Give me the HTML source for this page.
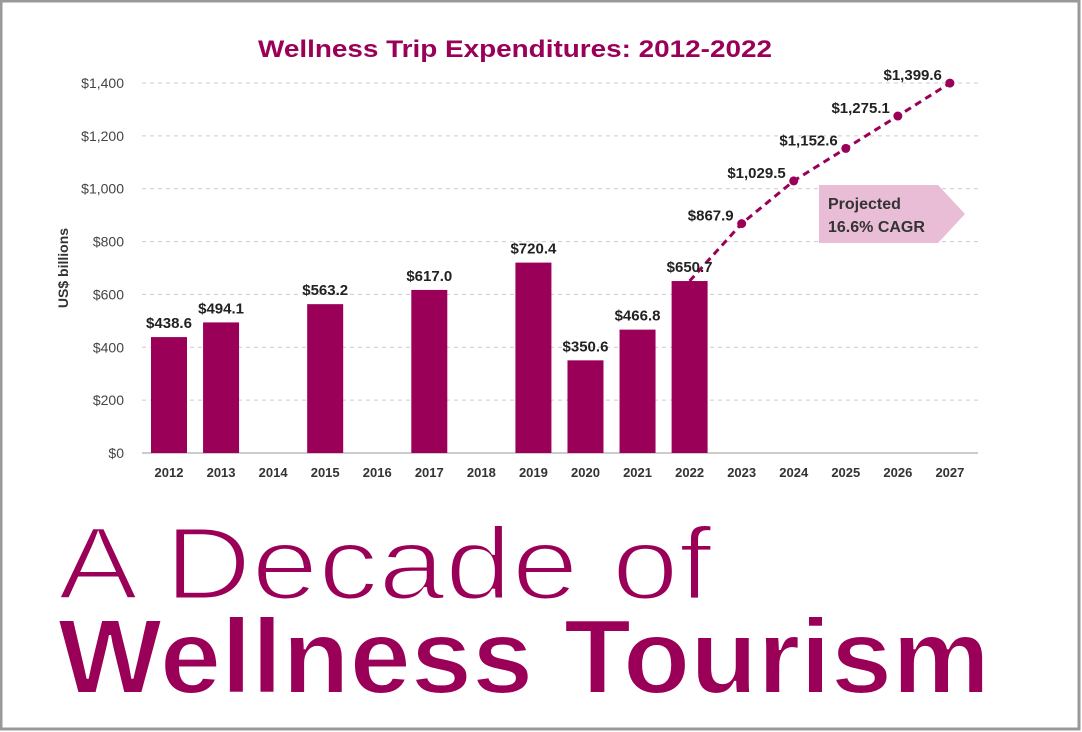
<!DOCTYPE html>
<html><head><meta charset="utf-8"><style>
html,body{margin:0;padding:0;background:#fff;}
svg{display:block;font-family:"Liberation Sans",sans-serif;}
</style></head><body>
<svg id="chart" width="1082" height="732" viewBox="0 0 1082 732">
<rect x="1" y="1" width="1078" height="728" fill="#fff" stroke="#999" stroke-width="3"/>
<text x="515" y="57" text-anchor="middle" font-size="24" font-weight="bold" fill="#9b0058" textLength="514" lengthAdjust="spacingAndGlyphs">Wellness Trip Expenditures: 2012-2022</text>
<text transform="translate(68,268) rotate(-90)" text-anchor="middle" font-size="14" font-weight="bold" fill="#333">US$ billions</text>
<g id="grid"></g><g id="bars"></g><g id="proj"></g><g id="labels"></g>
<g>
<polygon points="819,185 938,185 965,214 938,243 819,243" fill="#e8bdd5"/>
<text x="828" y="209" font-size="16" font-weight="bold" fill="#333">Projected</text>
<text x="828" y="232" font-size="16" font-weight="bold" fill="#333">16.6% CAGR</text>
</g>
<text x="58" y="599" font-size="103" fill="#9b0058" stroke="#fff" stroke-width="3" textLength="654" lengthAdjust="spacingAndGlyphs">A Decade of</text>
<text x="58" y="693" font-size="106" font-weight="bold" fill="#9b0058" stroke="#fff" stroke-width="2" textLength="932" lengthAdjust="spacingAndGlyphs">Wellness Tourism</text>
</svg>
<script>
const years=[2012,2013,2014,2015,2016,2017,2018,2019,2020,2021,2022,2023,2024,2025,2026,2027];
const barValues=[438.6,494.1,null,563.2,null,617.0,null,720.4,350.6,466.8,650.7,null,null,null,null,null];
const projValues=[null,null,null,null,null,null,null,null,null,null,650.7,867.9,1029.5,1152.6,1275.1,1399.6];
const yTicks=[0,200,400,600,800,1000,1200,1400];
const yTickLabels=["$0","$200","$400","$600","$800","$1,000","$1,200","$1,400"];
const NS="http://www.w3.org/2000/svg";
const y=v=>453-v*(370/1400);
const x=i=>169+i*52.06;
function mk(tag,attrs,parent,txt){const e=document.createElementNS(NS,tag);for(const k in attrs)e.setAttribute(k,attrs[k]);if(txt!=null)e.textContent=txt;document.getElementById(parent).appendChild(e);return e;}
const fmt=v=>"$"+v.toLocaleString("en-US",{minimumFractionDigits:1,maximumFractionDigits:1});
yTicks.forEach((t,i)=>{
 const l=mk("line",{x1:142,x2:978,y1:y(t),y2:y(t),stroke:t===0?"#bbb":"#ccc","stroke-width":t===0?1.5:1,"stroke-dasharray":t===0?"":"4 4"},"grid");
 
 
 const tx=mk("text",{x:124,y:y(t)+5,"text-anchor":"end","font-size":14,fill:"#444"},"grid",yTickLabels[i]);
 
 
});
years.forEach((yr,i)=>{
 const tx=mk("text",{x:x(i),y:477,"text-anchor":"middle","font-size":13,"font-weight":"bold",fill:"#333"},"labels",yr);
 
 
 const v=barValues[i];
 if(v!=null){
  const r=mk("rect",{x:x(i)-18,y:y(v),width:36,height:453-y(v),fill:"#9b0058"},"bars");
  
  
  const lb=mk("text",{x:x(i),y:y(v)-9,"text-anchor":"middle","font-size":15,"font-weight":"bold",fill:"#222"},"labels",fmt(v));
  
  
 }
});
const pts=[];projValues.forEach((v,i)=>{if(v!=null)pts.push([x(i),y(v),v,i]);});
const pl=mk("polyline",{points:pts.map(p=>p[0]+","+p[1]).join(" "),fill:"none",stroke:"#9b0058","stroke-width":3,"stroke-dasharray":"7 5"},"proj");


pts.forEach((p,k)=>{
 if(k===0)return;
 const c=mk("circle",{cx:p[0],cy:p[1],r:4.5,fill:"#9b0058"},"proj");
 
 
 const lb=mk("text",{x:p[0]-8,y:p[1]-3,"text-anchor":"end","font-size":15,"font-weight":"bold",fill:"#222"},"labels",fmt(p[2]));
 
 
});
</script>
</body></html>
